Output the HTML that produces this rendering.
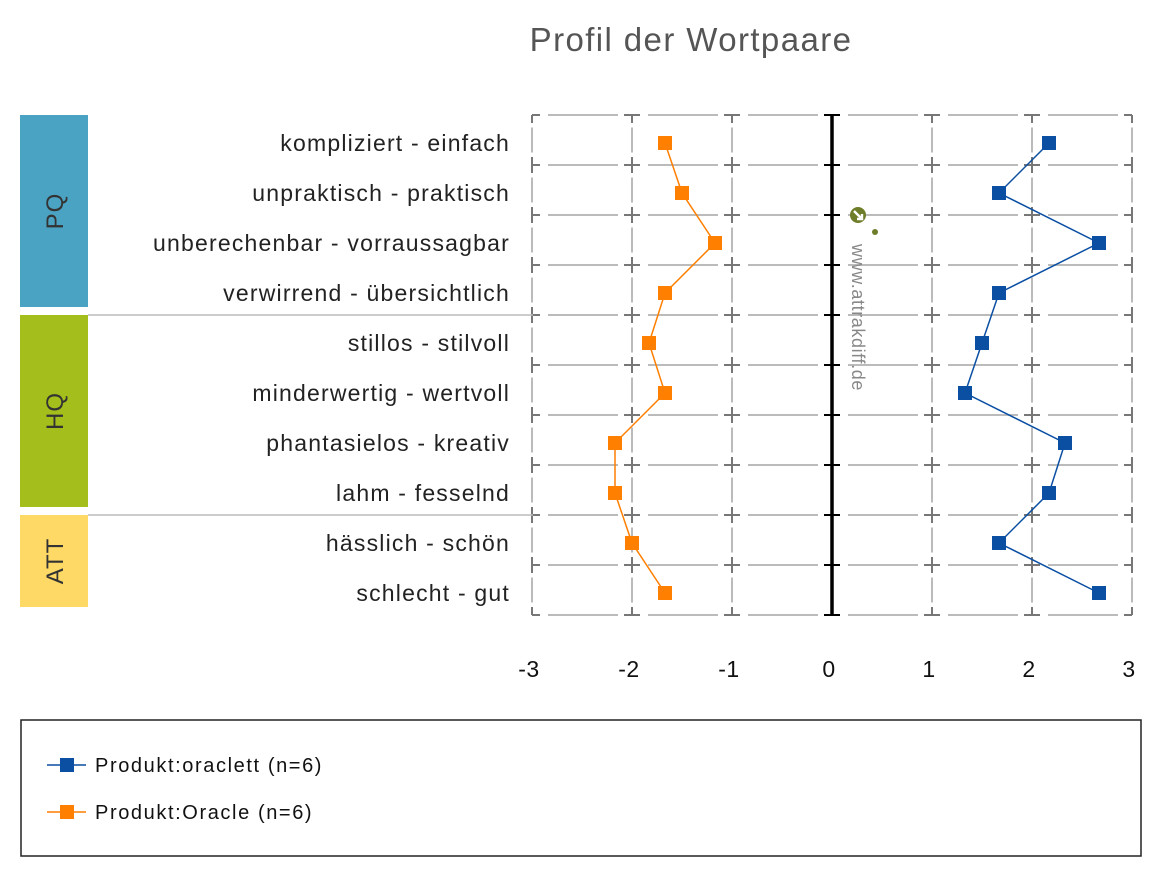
<!DOCTYPE html>
<html><head><meta charset="utf-8"><style>
body{margin:0;background:#fff;font-family:"Liberation Sans",Arial,sans-serif}
svg{display:block}
</style></head><body>
<svg id="c" width="1160" height="876" xmlns="http://www.w3.org/2000/svg">
<text x="691" y="51" text-anchor="middle" font-size="33" letter-spacing="1.4" fill="#555">Profil der Wortpaare</text>
<g id="grid"></g>
<g id="groups"></g>
<g id="labels"></g>
<g id="xt"></g>
<g>
<circle cx="858" cy="215" r="8" fill="#6e7d2a"/><path d="M854 211 L862 219 M862 214 V219 H857" stroke="#fff" stroke-width="2.4" fill="none"/>
<circle cx="875" cy="232" r="3" fill="#6e7d2a"/>
<text x="0" y="0" transform="translate(852,244) rotate(90)" font-size="18" letter-spacing="0.6" fill="#888">www.attrakdiff.de</text>
</g>
<g id="series"></g>
<g>
<rect x="21" y="720" width="1120" height="136" fill="none" stroke="#222" stroke-width="1.5"/>
<g><line x1="47" y1="765" x2="86" y2="765" stroke="#0b4fa3" stroke-width="1.5"/><rect x="60" y="758" width="14" height="14" fill="#0b4fa3"/><text x="95" y="772" font-size="20" letter-spacing="1.6" fill="#111">Produkt:oraclett (n=6)</text></g>
<g><line x1="47" y1="812" x2="86" y2="812" stroke="#ff7f00" stroke-width="1.5"/><rect x="60" y="805" width="14" height="14" fill="#ff7f00"/><text x="95" y="819" font-size="20" letter-spacing="1.6" fill="#111">Produkt:Oracle (n=6)</text></g>
</g>
</svg>
<script>
const categories=["kompliziert - einfach","unpraktisch - praktisch","unberechenbar - vorraussagbar","verwirrend - übersichtlich","stillos - stilvoll","minderwertig - wertvoll","phantasielos - kreativ","lahm - fesselnd","hässlich - schön","schlecht - gut"];
const oraclettValues=[2.17,1.67,2.67,1.67,1.5,1.33,2.33,2.17,1.67,2.67];
const oracleValues=[-1.67,-1.5,-1.17,-1.67,-1.83,-1.67,-2.17,-2.17,-2,-1.67];
const xTicks=[-3,-2,-1,0,1,2,3];
const groupNames=["PQ","HQ","ATT"];
const groupStarts=[0,4,8];
const groupEnds=[4,8,10];
const groupColors=["#4ba3c3","#a4be1b","#ffd966"];
{
const NS="http://www.w3.org/2000/svg";
const X=v=>832+v*100, Y=i=>143+i*50;
function mk(p,t,a){const e=document.createElementNS(NS,t);for(const k in a)e.setAttribute(k,a[k]);p.appendChild(e);return e;}
const g=document.getElementById('grid');
const gTop=115,gBot=615,gLeft=533,gRight=1132;
for(let i=0;i<=categories.length;i++){const y=gTop+i*50;
 const l=mk(g,'line',{x1:gLeft,y1:y,x2:gRight,y2:y,stroke:'#bbb','stroke-width':2,'stroke-dasharray':'70 30','stroke-dashoffset':-15});
 
 }
xTicks.forEach(t=>{const x=X(t);
 if(t!==0){const l=mk(g,'line',{x1:x,y1:gTop,x2:x,y2:gBot,stroke:'#bbb','stroke-width':2,'stroke-dasharray':'25 25','stroke-dashoffset':-12.5});
 
 }
 for(let i=0;i<=categories.length;i++){const y=gTop+i*50;
  if(t===0){mk(g,'line',{x1:x-8,y1:y,x2:x+8,y2:y,stroke:'#000','stroke-width':2});}
  else{mk(g,'line',{x1:x-(t===-3?0:8),y1:y,x2:x+(t===3?0:8),y2:y,stroke:'#777','stroke-width':2});mk(g,'line',{x1:x,y1:y-(i===0?0:8),x2:x,y2:y+(i===categories.length?0:8),stroke:'#777','stroke-width':2});}
 }
 const tx=mk(document.getElementById('xt'),'text',{x:x-3,y:677,'text-anchor':'middle','font-size':23,'letter-spacing':0.5,fill:'#111'});tx.textContent=t;
 
 
});
const ax=mk(g,'line',{x1:832,y1:gTop,x2:832,y2:gBot,stroke:'#000','stroke-width':3.5});


const gg=document.getElementById('groups');
groupNames.forEach((nm,k)=>{const y0=gTop+groupStarts[k]*50, y1=gTop+groupEnds[k]*50;
 const r=mk(gg,'rect',{x:20,y:y0,width:68,height:y1-y0-8,fill:groupColors[k]});
 
 
 const cy=(y0+y1-8)/2;const t=mk(gg,'text',{x:0,y:0,transform:`translate(63,${cy}) rotate(-90)`,'text-anchor':'middle','font-size':24,'letter-spacing':1,fill:'#333'});t.textContent=nm;
 
 
 if(k>0){const s=mk(gg,'line',{x1:88,y1:y0,x2:gLeft,y2:y0,stroke:'#bbb','stroke-width':1.5});
 
 }
});
const lb=document.getElementById('labels');
categories.forEach((c,i)=>{const t=mk(lb,'text',{x:510,y:Y(i)+8,'text-anchor':'end','font-size':23,'letter-spacing':1.2,fill:'#222'});t.textContent=c;
 
 });
const sg=document.getElementById('series');
[[oracleValues,'#ff7f00','oracle'],[oraclettValues,'#0b4fa3','oraclett']].forEach(([vals,col,nm])=>{
 const p=mk(sg,'polyline',{points:vals.map((v,i)=>X(v)+','+Y(i)).join(' '),fill:'none',stroke:col,'stroke-width':1.5});
 
 
 vals.forEach((v,i)=>{const r=mk(sg,'rect',{x:X(v)-7,y:Y(i)-7,width:14,height:14,fill:col});
  
  });
});
}
</script>
</body></html>
